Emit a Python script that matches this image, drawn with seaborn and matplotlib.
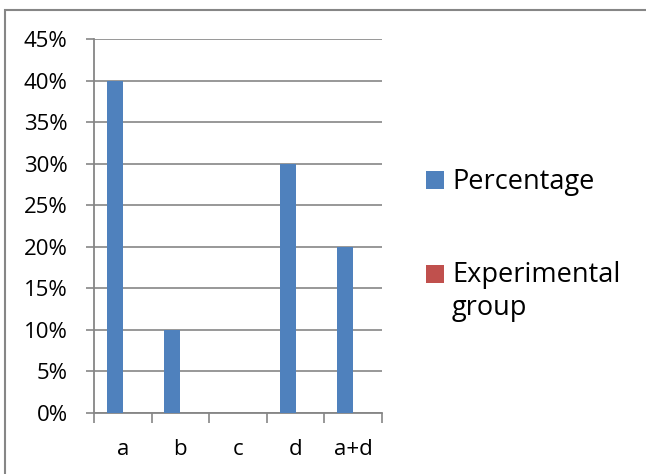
import matplotlib
matplotlib.use("Agg")
import matplotlib.pyplot as plt
from matplotlib.ticker import PercentFormatter, FixedLocator, MultipleLocator
from matplotlib.patches import Rectangle
import seaborn as sns
import pandas as pd

categories = ["a", "b", "c", "d", "a+d"]
percentage = [0.40, 0.10, 0.00, 0.30, 0.20]
experimental_group = [0.0, 0.0, 0.0, 0.0, 0.0]
series_names = ["Percentage", "Experimental group"]
legend_labels = ["Percentage", "Experimental\ngroup"]
colors = ["#4F81BD", "#C0504D"]

df = pd.DataFrame({
    "category": categories * 2,
    "series": [series_names[0]] * len(categories) + [series_names[1]] * len(categories),
    "value": percentage + experimental_group,
})

sns.set_style("white")
plt.rcParams["font.family"] = ["Open Sans", "DejaVu Sans"]

grid_gray = "#868686"
W, H = 646, 474

fig = plt.figure(figsize=(W / 100, H / 100), dpi=100)
ax = fig.add_axes([94 / W, 1 - 413 / H, (382 - 94) / W, (413 - 39) / H])

sns.barplot(data=df, x="category", y="value", hue="series",
            order=categories, hue_order=series_names,
            palette=colors, width=0.557, linewidth=0, saturation=1,
            errorbar=None, legend=False, ax=ax, zorder=3)

ax.set_ylim(0, 0.45)
ax.set_xlim(-0.5, len(categories) - 0.5)
ax.yaxis.set_major_locator(MultipleLocator(0.05))
ax.yaxis.set_major_formatter(PercentFormatter(1.0, decimals=0))
ax.set_xlabel("")
ax.set_ylabel("")

ax.grid(axis="y", color=grid_gray, linewidth=1.2, zorder=0)
ax.set_axisbelow(True)
for side in ["top", "right"]:
    ax.spines[side].set_visible(False)
for side in ["left", "bottom"]:
    ax.spines[side].set_color(grid_gray)
    ax.spines[side].set_linewidth(1.3)

ax.tick_params(axis="y", which="major", direction="out", length=6, width=1.2,
               color=grid_gray, pad=13, labelsize=16, labelcolor="black", left=True)
# category separators as minor ticks, labels centred on the major ticks
ax.xaxis.set_minor_locator(FixedLocator([i - 0.5 for i in range(len(categories) + 1)]))
ax.tick_params(axis="x", which="minor", direction="out", length=7, width=1.2,
               color=grid_gray, bottom=True)
ax.tick_params(axis="x", which="major", length=0, pad=19, labelsize=16,
               labelcolor="black")

# legend: square key aligned with the first line of each label
key_px = 18
key_tops = [171, 265]
first_baselines = [189.5, 282]
legend_texts = []
for color, label, top in zip(colors, legend_labels, key_tops):
    fig.add_artist(Rectangle((426 / W, 1 - (top + key_px) / H), key_px / W, key_px / H,
                             transform=fig.transFigure, facecolor=color,
                             edgecolor="none"))
    legend_texts.append(fig.text(452 / W, 0, label, fontsize=19.5, ha="left",
                                 va="top", linespacing=1.22, color="black"))

fig.canvas.draw()
renderer = fig.canvas.get_renderer()
for txt, base in zip(legend_texts, first_baselines):
    _, h, d = renderer.get_text_width_height_descent(
        "Experimental", txt.get_fontproperties(), ismath=False)
    txt.set_y(1 - (base - (h - d)) / H)

# chart frame
fig.add_artist(Rectangle((4.5 / W, -0.5), 2.0, 1 - 9.5 / H + 0.5,
                         transform=fig.transFigure, fill=False,
                         edgecolor=grid_gray, linewidth=1.5))

fig.savefig("out.png", dpi=100)
